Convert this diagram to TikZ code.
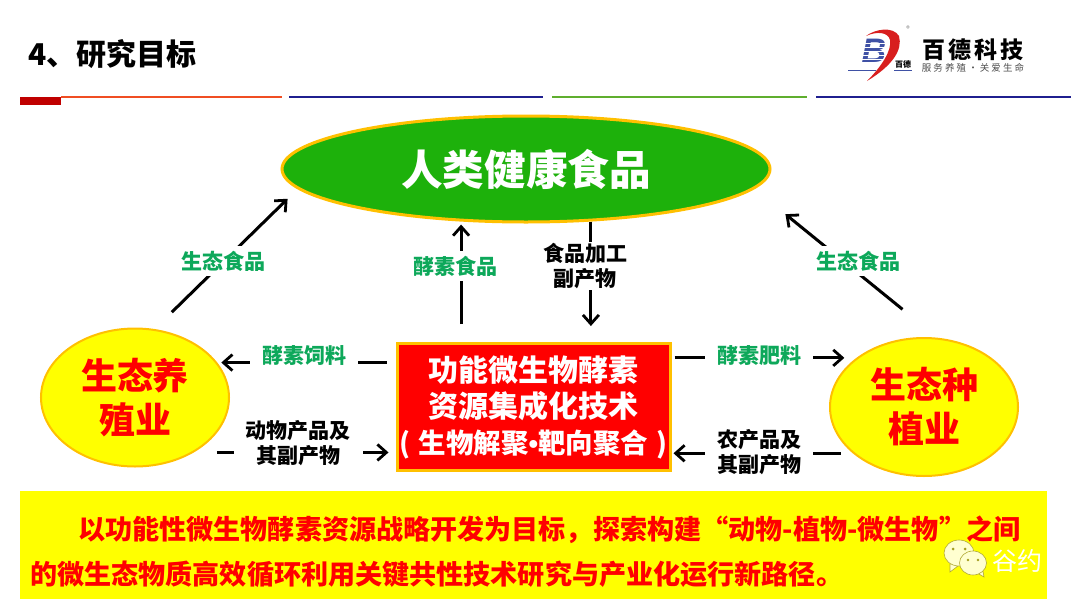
\documentclass[tikz,border=0pt]{standalone}
\usepackage{fontspec}
\setmainfont{Noto Sans CJK SC}
\newfontfamily\latinb{Liberation Sans}
\usetikzlibrary{calc,arrows.meta,positioning,shapes.geometric}
\definecolor{leafc}{HTML}{1DB10B}
\definecolor{goldc}{HTML}{FFC000}
\definecolor{labc}{HTML}{0DA85A}
\definecolor{redc}{HTML}{FF0000}
\definecolor{yelc}{RGB}{255,255,0}
\definecolor{rulered}{HTML}{C00000}
\definecolor{ruleorg}{HTML}{F04E23}
\definecolor{ruleblue}{HTML}{1F1F8F}
\definecolor{rulegrn}{HTML}{5FAE2E}
\definecolor{logoblue}{HTML}{3F51A5}
\definecolor{logored}{HTML}{D81E1E}
\definecolor{chatc}{HTML}{FFFFD0}
\newcommand{\fsz}[1]{\fontsize{#1}{#1}\selectfont\bfseries}
\tikzset{
  ar/.style={-{Straight Barb[length=9pt,width=16pt,line width=2.8pt]},line width=3pt,black},
  eco/.style={ellipse,draw=goldc,line width=2pt,fill=yelc,minimum width=188pt,minimum height=138pt,inner sep=0pt,text=redc,align=center,font=\fsz{36},execute at begin node=\setlength{\baselineskip}{44pt}},
  lab/.style={fill=white,inner xsep=12pt,inner ysep=5pt,text=labc,font=\fsz{21}},
  blk/.style={fill=white,inner xsep=12pt,inner ysep=1pt,text=black,align=center,font=\fsz{21},execute at begin node=\setlength{\baselineskip}{25pt}},
  hrule/.style={line width=2pt}
}
\begin{document}
\begin{tikzpicture}[x=1pt,y=-1pt]
\useasboundingbox (0,0) rectangle (1080,608);
\fill[rulered] (20,97) rectangle (61,105);
\draw[hrule,ruleorg] (61,96.5)--(282,96.5);
\draw[hrule,ruleblue] (289,96.5)--(543,96.5);
\draw[hrule,rulegrn] (552,96.5)--(807,96.5);
\draw[hrule,ruleblue] (816,96.5)--(1071,96.5);
\node[anchor=west,inner sep=0pt,font=\fsz{30}] (title) at (28,54) {4、研究目标};
\node[text=logoblue,inner sep=0pt,font=\latinb\fontsize{34}{34}\selectfont\bfseries\itshape] (logob) at (874,51) {B};
\foreach \yy in {43,47,51,55,59} \draw[white,line width=0.8pt] (860,\yy)--(890,\yy);
\fill[logored] (866,36) .. controls (875,29) and (893,26) .. (899,36) .. controls (903,50) and (892,66) .. (867,81) .. controls (882,66) and (892,50) .. (890,40) .. controls (888,32) and (877,31) .. (866,36);
\draw[logoblue,line width=1pt] (848,70)--(876,70) (894,70)--(912,70);
\node[inner sep=0pt,font=\fsz{8}] (logosm) at (903,64) {百德};
\node[inner sep=0pt,text=black!60,font=\fontsize{7}{7}\selectfont] (logor) at (908,29) {®};
\node[inner sep=0pt,font=\fsz{23}\addfontfeatures{LetterSpace=12}] (logoname) at (973,50) {百德科技};
\node[inner sep=0pt,text=black!70,font=\fontsize{9.5}{9.5}\selectfont\addfontfeatures{LetterSpace=22}] (logosub) at (973,68) {服务养殖·关爱生命};
\node[ellipse,draw=goldc,line width=3pt,fill=leafc,minimum width=488pt,minimum height=106pt,inner sep=0pt,text=white,font=\fsz{41.6}] (food) at (526,169) {人类健康食品};
\node[eco] (ecoani) at (135,397.5) {生态养\\殖业};
\node[eco] (ecopla) at (924,407) {生态种\\植业};
\node[draw=goldc,line width=3pt,fill=redc,minimum width=273pt,minimum height=127pt,inner sep=0pt,text=white,align=center,font=\fsz{30},execute at begin node=\setlength{\baselineskip}{36pt}] (tech) at (533.5,407) {功能微生物酵素\\资源集成化技术\\{\fsz{27.5}(\hspace{8pt}生物解聚{\latinb •}靶向聚合\hspace{8pt})}};
\draw[ar,shorten <=24pt,shorten >=14pt] (ecoani.74)--(food.185.4);
\draw[ar,shorten <=45pt,shorten >=40pt] (ecopla.79.3)--(food.355.4);
\draw[ar,shorten <=18pt,shorten >=3pt] (food.219.8 |- tech.north)--(food.219.8);
\draw[ar,shorten >=16pt] (food.321.2)--(food.321.2 |- tech.north);
\draw[ar,shorten <=9pt,shorten >=4pt] (tech.west |- ecoani.23)--(ecoani.23);
\draw[ar,shorten <=23pt,shorten >=7pt] (ecoani.317)--(ecoani.317 -| tech.west);
\draw[ar,shorten <=3pt,shorten >=12pt] (tech.east |- ecopla.144)--(ecopla.144);
\draw[ar,shorten <=12pt,shorten >=2pt] (ecopla.213)--(ecopla.213 -| tech.east);
\node[lab] (l1) at (223,261) {生态食品};
\node[lab] (l2) at (858,261) {生态食品};
\node[lab] (l3) at (455,266) {酵素食品};
\node[blk] (l4) at (585,266) {食品加工\\副产物};
\node[lab] (l5) at (304,356) {酵素饲料};
\node[lab] (l6) at (759,356) {酵素肥料};
\node[blk] (l7) at (298,443) {动物产品及\\其副产物};
\node[blk] (l8) at (759,452) {农产品及\\其副产物};
\fill[yelc] (20,491) rectangle (1047,599);
\node[anchor=west,inner sep=0pt,text=redc,align=left,font=\fsz{27.1},execute at begin node=\setlength{\baselineskip}{45pt}] (goal) at (30,552) {\hspace*{48pt}以功能性微生物酵素资源战略开发为目标，探索构建“动物-植物-微生物”之间\\的微生态物质高效循环利用关键共性技术研究与产业化运行新路径。};
\draw[olive!70,line width=0.6pt,fill=chatc] (959,553) ellipse (15pt and 13pt) (950,564)--(950,572)--(958,566);
\fill[olive!80] (953,549) circle (1.5pt) (965,549) circle (1.5pt);
\draw[olive!70,line width=0.6pt,fill=chatc] (973,563) ellipse (13.5pt and 12pt) (979,574)--(984,577)--(983,571);
\fill[olive!80] (968,560) circle (1.3pt) (978,560) circle (1.3pt);
\node[inner sep=0pt,text=white,font=\fontsize{25}{25}\selectfont] (mark) at (1017,561) {谷约};
\end{tikzpicture}
\end{document}
